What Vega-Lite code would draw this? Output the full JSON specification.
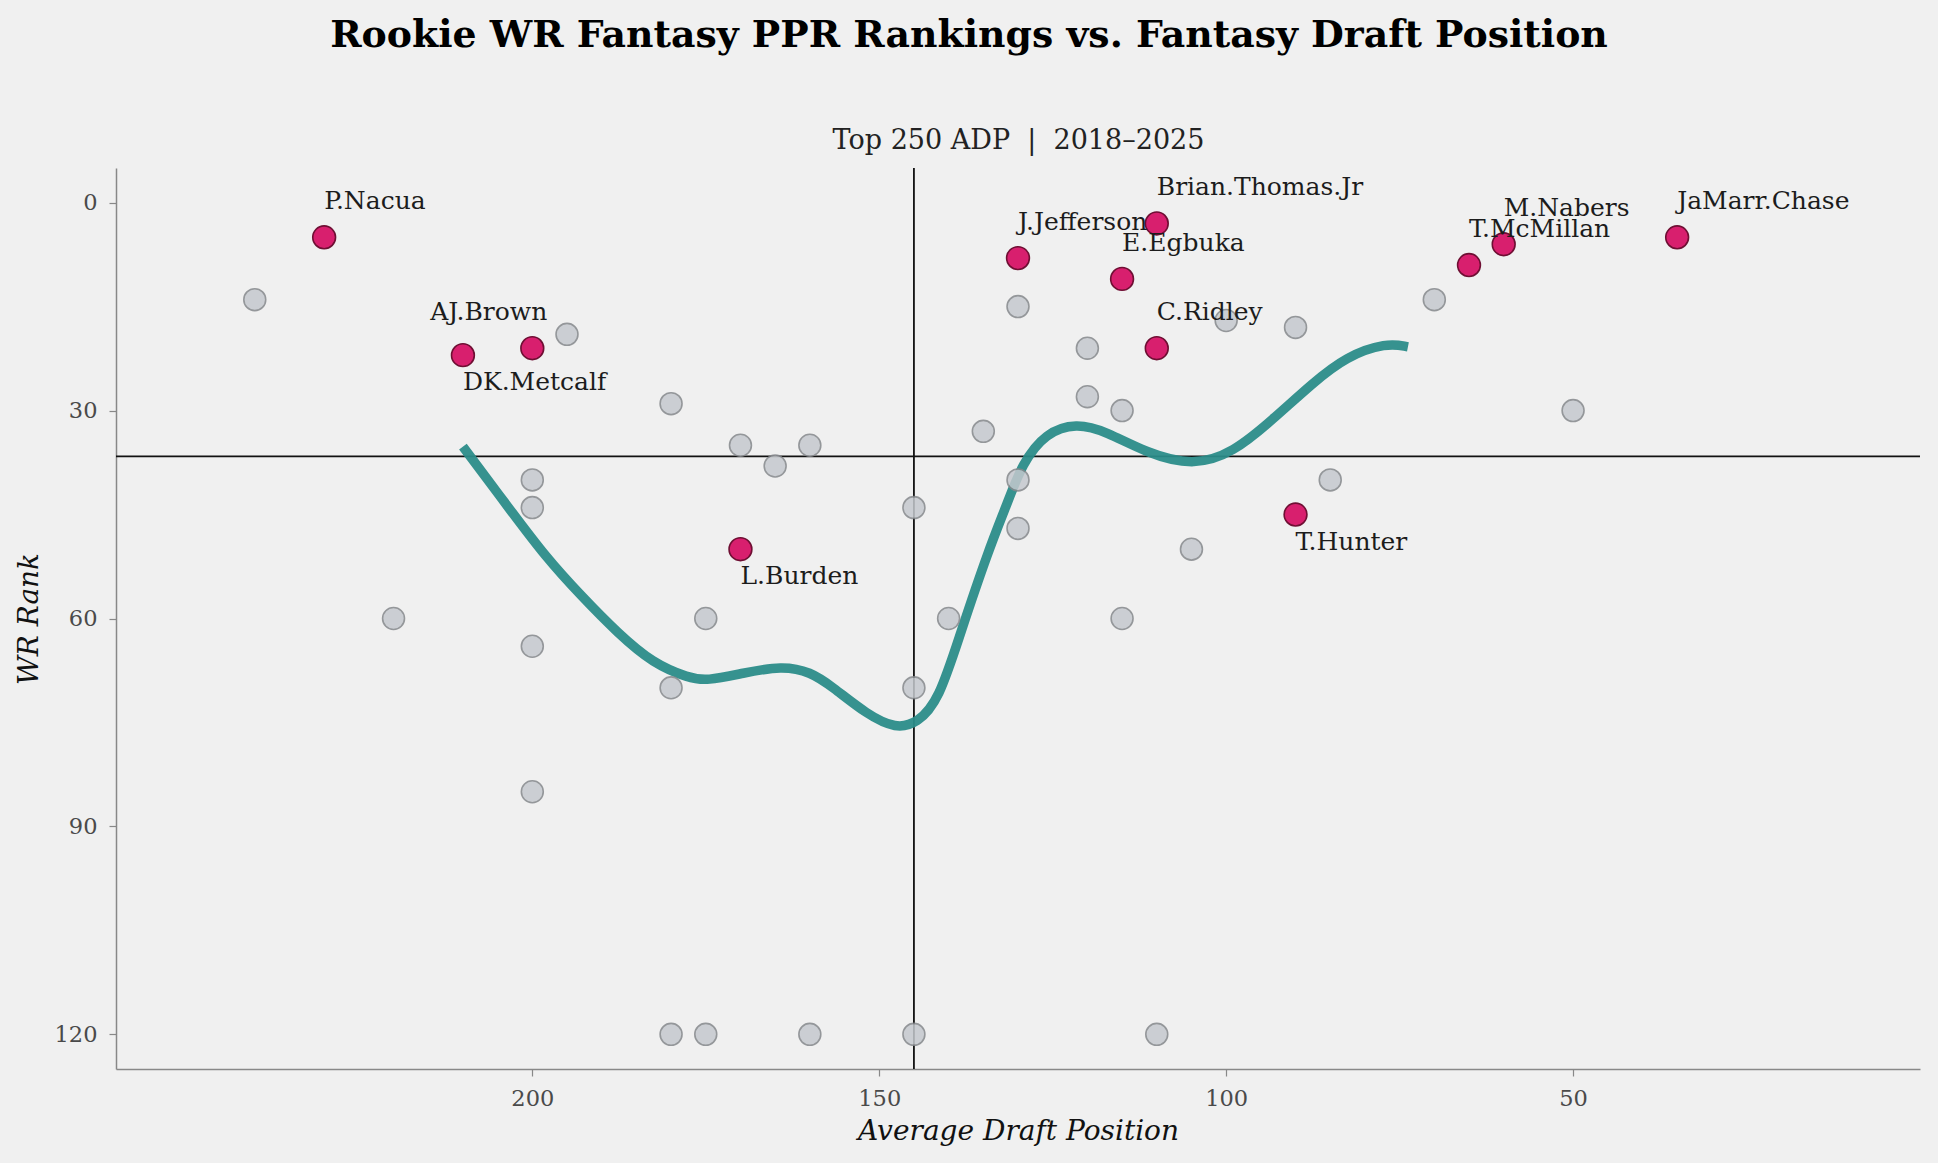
{
  "$schema": "https://vega.github.io/schema/vega-lite/v6.json",
  "width": 1804,
  "height": 901,
  "autosize": {"type": "none"},
  "padding": {"left": 116, "top": 168, "right": 18, "bottom": 94},
  "background": "#f0f0f0",
  "config": {"view": {"stroke": null}, "font": "DejaVu Serif"},
  "title": {
    "text": "Rookie WR Fantasy PPR Rankings vs. Fantasy Draft Position",
    "font": "DejaVu Serif",
    "fontSize": 37.8,
    "fontWeight": "bold",
    "color": "#000000",
    "anchor": "middle",
    "frame": "group",
    "dx": -49,
    "baseline": "alphabetic",
    "offset": 41
  },
  "datasets": {
    "players": [
      {"name": "P.Nacua", "adp": 230, "rank": 5, "highlight": true},
      {"name": "AJ.Brown", "adp": 200, "rank": 21, "highlight": true},
      {"name": "DK.Metcalf", "adp": 210, "rank": 22, "highlight": true},
      {"name": "L.Burden", "adp": 170, "rank": 50, "highlight": true},
      {"name": "J.Jefferson", "adp": 130, "rank": 8, "highlight": true},
      {"name": "Brian.Thomas.Jr", "adp": 110, "rank": 3, "highlight": true},
      {"name": "E.Egbuka", "adp": 115, "rank": 11, "highlight": true},
      {"name": "C.Ridley", "adp": 110, "rank": 21, "highlight": true},
      {"name": "T.Hunter", "adp": 90, "rank": 45, "highlight": true},
      {"name": "T.McMillan", "adp": 65, "rank": 9, "highlight": true},
      {"name": "M.Nabers", "adp": 60, "rank": 6, "highlight": true},
      {"name": "JaMarr.Chase", "adp": 35, "rank": 5, "highlight": true},
      {"name": "", "adp": 240, "rank": 14, "highlight": false},
      {"name": "", "adp": 195, "rank": 19, "highlight": false},
      {"name": "", "adp": 180, "rank": 29, "highlight": false},
      {"name": "", "adp": 170, "rank": 35, "highlight": false},
      {"name": "", "adp": 165, "rank": 38, "highlight": false},
      {"name": "", "adp": 160, "rank": 35, "highlight": false},
      {"name": "", "adp": 200, "rank": 40, "highlight": false},
      {"name": "", "adp": 200, "rank": 44, "highlight": false},
      {"name": "", "adp": 220, "rank": 60, "highlight": false},
      {"name": "", "adp": 200, "rank": 64, "highlight": false},
      {"name": "", "adp": 175, "rank": 60, "highlight": false},
      {"name": "", "adp": 180, "rank": 70, "highlight": false},
      {"name": "", "adp": 200, "rank": 85, "highlight": false},
      {"name": "", "adp": 180, "rank": 120, "highlight": false},
      {"name": "", "adp": 175, "rank": 120, "highlight": false},
      {"name": "", "adp": 160, "rank": 120, "highlight": false},
      {"name": "", "adp": 145, "rank": 120, "highlight": false},
      {"name": "", "adp": 110, "rank": 120, "highlight": false},
      {"name": "", "adp": 145, "rank": 44, "highlight": false},
      {"name": "", "adp": 145, "rank": 70, "highlight": false},
      {"name": "", "adp": 140, "rank": 60, "highlight": false},
      {"name": "", "adp": 135, "rank": 33, "highlight": false},
      {"name": "", "adp": 130, "rank": 15, "highlight": false},
      {"name": "", "adp": 130, "rank": 40, "highlight": false},
      {"name": "", "adp": 130, "rank": 47, "highlight": false},
      {"name": "", "adp": 120, "rank": 21, "highlight": false},
      {"name": "", "adp": 120, "rank": 28, "highlight": false},
      {"name": "", "adp": 115, "rank": 30, "highlight": false},
      {"name": "", "adp": 115, "rank": 60, "highlight": false},
      {"name": "", "adp": 105, "rank": 50, "highlight": false},
      {"name": "", "adp": 100, "rank": 17, "highlight": false},
      {"name": "", "adp": 90, "rank": 18, "highlight": false},
      {"name": "", "adp": 85, "rank": 40, "highlight": false},
      {"name": "", "adp": 70, "rank": 14, "highlight": false},
      {"name": "", "adp": 50, "rank": 30, "highlight": false}
    ],
    "trend": [
      {"adp": 210, "rank": 35.2},
      {"adp": 203.2, "rank": 44.3},
      {"adp": 198.1, "rank": 51.1},
      {"adp": 192.9, "rank": 56.8},
      {"adp": 187.7, "rank": 62.1},
      {"adp": 182.6, "rank": 66.5},
      {"adp": 177.4, "rank": 68.6},
      {"adp": 174.9, "rank": 69.0},
      {"adp": 169.7, "rank": 67.9},
      {"adp": 164.0, "rank": 66.8},
      {"adp": 159.9, "rank": 67.7},
      {"adp": 156.8, "rank": 69.8},
      {"adp": 151.7, "rank": 73.9},
      {"adp": 147.6, "rank": 75.9},
      {"adp": 144.5, "rank": 75.1},
      {"adp": 141.4, "rank": 71.8},
      {"adp": 138.3, "rank": 62.1},
      {"adp": 134.2, "rank": 50.0},
      {"adp": 131.7, "rank": 43.8},
      {"adp": 129.4, "rank": 37.6},
      {"adp": 126.0, "rank": 33.2},
      {"adp": 121.6, "rank": 31.8},
      {"adp": 117.3, "rank": 33.0},
      {"adp": 111.5, "rank": 36.1},
      {"adp": 104.8, "rank": 38.0},
      {"adp": 99.0, "rank": 36.1},
      {"adp": 93.3, "rank": 31.3},
      {"adp": 87.5, "rank": 26.0},
      {"adp": 82.7, "rank": 22.2},
      {"adp": 76.9, "rank": 20.2},
      {"adp": 73.8, "rank": 20.8}
    ],
    "hline": [{"rank": 36.6}],
    "vline": [{"adp": 145}]
  },
  "layer": [
    {
      "data": {"name": "hline"},
      "mark": {"type": "rule", "color": "#111111", "strokeWidth": 1.8},
      "encoding": {
        "y": {"field": "rank", "type": "quantitative", "scale": {"domain": [-5, 125], "reverse": true, "nice": false, "zero": false}, "axis": null}
      }
    },
    {
      "data": {"name": "vline"},
      "mark": {"type": "rule", "color": "#111111", "strokeWidth": 1.8},
      "encoding": {
        "x": {
          "field": "adp", "type": "quantitative",
          "scale": {"domain": [0, 260], "reverse": true, "nice": false, "zero": false},
          "axis": {
            "orient": "top",
            "title": "Top 250 ADP \u00a0|\u00a0 2018–2025",
            "titleFont": "DejaVu Serif",
            "titleFontSize": 27,
            "titleFontWeight": "normal",
            "titleColor": "#222222",
            "titleBaseline": "alphabetic",
            "titlePadding": 20,
            "labels": false,
            "ticks": false,
            "domain": false,
            "grid": false
          }
        }
      }
    },
    {
      "data": {"name": "trend"},
      "mark": {"type": "line", "color": "#2b8c89", "opacity": 0.95, "strokeWidth": 9.5, "interpolate": "basis", "strokeCap": "butt"},
      "encoding": {
        "x": {"field": "adp", "type": "quantitative", "axis": null},
        "y": {"field": "rank", "type": "quantitative", "axis": null}
      }
    },
    {
      "data": {"name": "players"},
      "transform": [{"filter": "!datum.highlight"}],
      "mark": {"type": "circle", "size": 480, "fill": "#c5c9ce", "stroke": "#85888c", "strokeWidth": 1.6, "opacity": 0.85},
      "encoding": {
        "x": {
          "field": "adp", "type": "quantitative",
          "axis": {
            "orient": "bottom",
            "values": [200, 150, 100, 50],
            "title": "Average Draft Position",
            "titleFont": "DejaVu Serif",
            "titleFontStyle": "italic",
            "titleFontWeight": "normal",
            "titleFontSize": 28,
            "titleColor": "#111111",
            "titlePadding": 8,
            "labelFont": "DejaVu Serif",
            "labelFontSize": 22.5,
            "labelColor": "#4a4a4a",
            "labelPadding": 11,
            "tickColor": "#888888",
            "tickSize": 7,
            "tickWidth": 1.2,
            "domainColor": "#888888",
            "domainWidth": 1.5,
            "grid": false
          }
        },
        "y": {
          "field": "rank", "type": "quantitative",
          "axis": {
            "orient": "left",
            "values": [0, 30, 60, 90, 120],
            "title": "WR Rank",
            "titleFont": "DejaVu Serif",
            "titleFontStyle": "italic",
            "titleFontWeight": "normal",
            "titleFontSize": 28,
            "titleColor": "#111111",
            "titlePadding": 11,
            "labelFont": "DejaVu Serif",
            "labelFontSize": 22.5,
            "labelColor": "#4a4a4a",
            "labelPadding": 12,
            "tickColor": "#888888",
            "tickSize": 7,
            "tickWidth": 1.2,
            "domainColor": "#888888",
            "domainWidth": 1.5,
            "grid": false
          }
        }
      }
    },
    {
      "data": {"name": "players"},
      "transform": [{"filter": "datum.highlight"}],
      "mark": {"type": "circle", "size": 520, "fill": "#d81f6e", "stroke": "#6e0f33", "strokeWidth": 1.6, "opacity": 1},
      "encoding": {
        "x": {"field": "adp", "type": "quantitative", "axis": null},
        "y": {"field": "rank", "type": "quantitative", "axis": null}
      }
    },
    {
      "data": {"name": "players"},
      "transform": [{"filter": "indexof(['P.Nacua','J.Jefferson','Brian.Thomas.Jr','E.Egbuka','C.Ridley','T.McMillan','M.Nabers','JaMarr.Chase'], datum.name) >= 0"}],
      "mark": {"type": "text", "align": "left", "baseline": "alphabetic", "dx": 0, "dy": -28, "font": "DejaVu Serif", "fontSize": 25, "color": "#1c1c1c"},
      "encoding": {
        "x": {"field": "adp", "type": "quantitative", "axis": null},
        "y": {"field": "rank", "type": "quantitative", "axis": null},
        "text": {"field": "name"}
      }
    },
    {
      "data": {"name": "players"},
      "transform": [{"filter": "indexof(['L.Burden','T.Hunter','DK.Metcalf'], datum.name) >= 0"}],
      "mark": {"type": "text", "align": "left", "baseline": "alphabetic", "dx": 0, "dy": 35, "font": "DejaVu Serif", "fontSize": 25, "color": "#1c1c1c"},
      "encoding": {
        "x": {"field": "adp", "type": "quantitative", "axis": null},
        "y": {"field": "rank", "type": "quantitative", "axis": null},
        "text": {"field": "name"}
      }
    },
    {
      "data": {"name": "players"},
      "transform": [{"filter": "datum.name === 'AJ.Brown'"}],
      "mark": {"type": "text", "align": "left", "baseline": "alphabetic", "dx": -102, "dy": -28, "font": "DejaVu Serif", "fontSize": 25, "color": "#1c1c1c"},
      "encoding": {
        "x": {"field": "adp", "type": "quantitative", "axis": null},
        "y": {"field": "rank", "type": "quantitative", "axis": null},
        "text": {"field": "name"}
      }
    }
  ],
  "resolve": {"axis": {"x": "independent", "y": "independent"}}
}
